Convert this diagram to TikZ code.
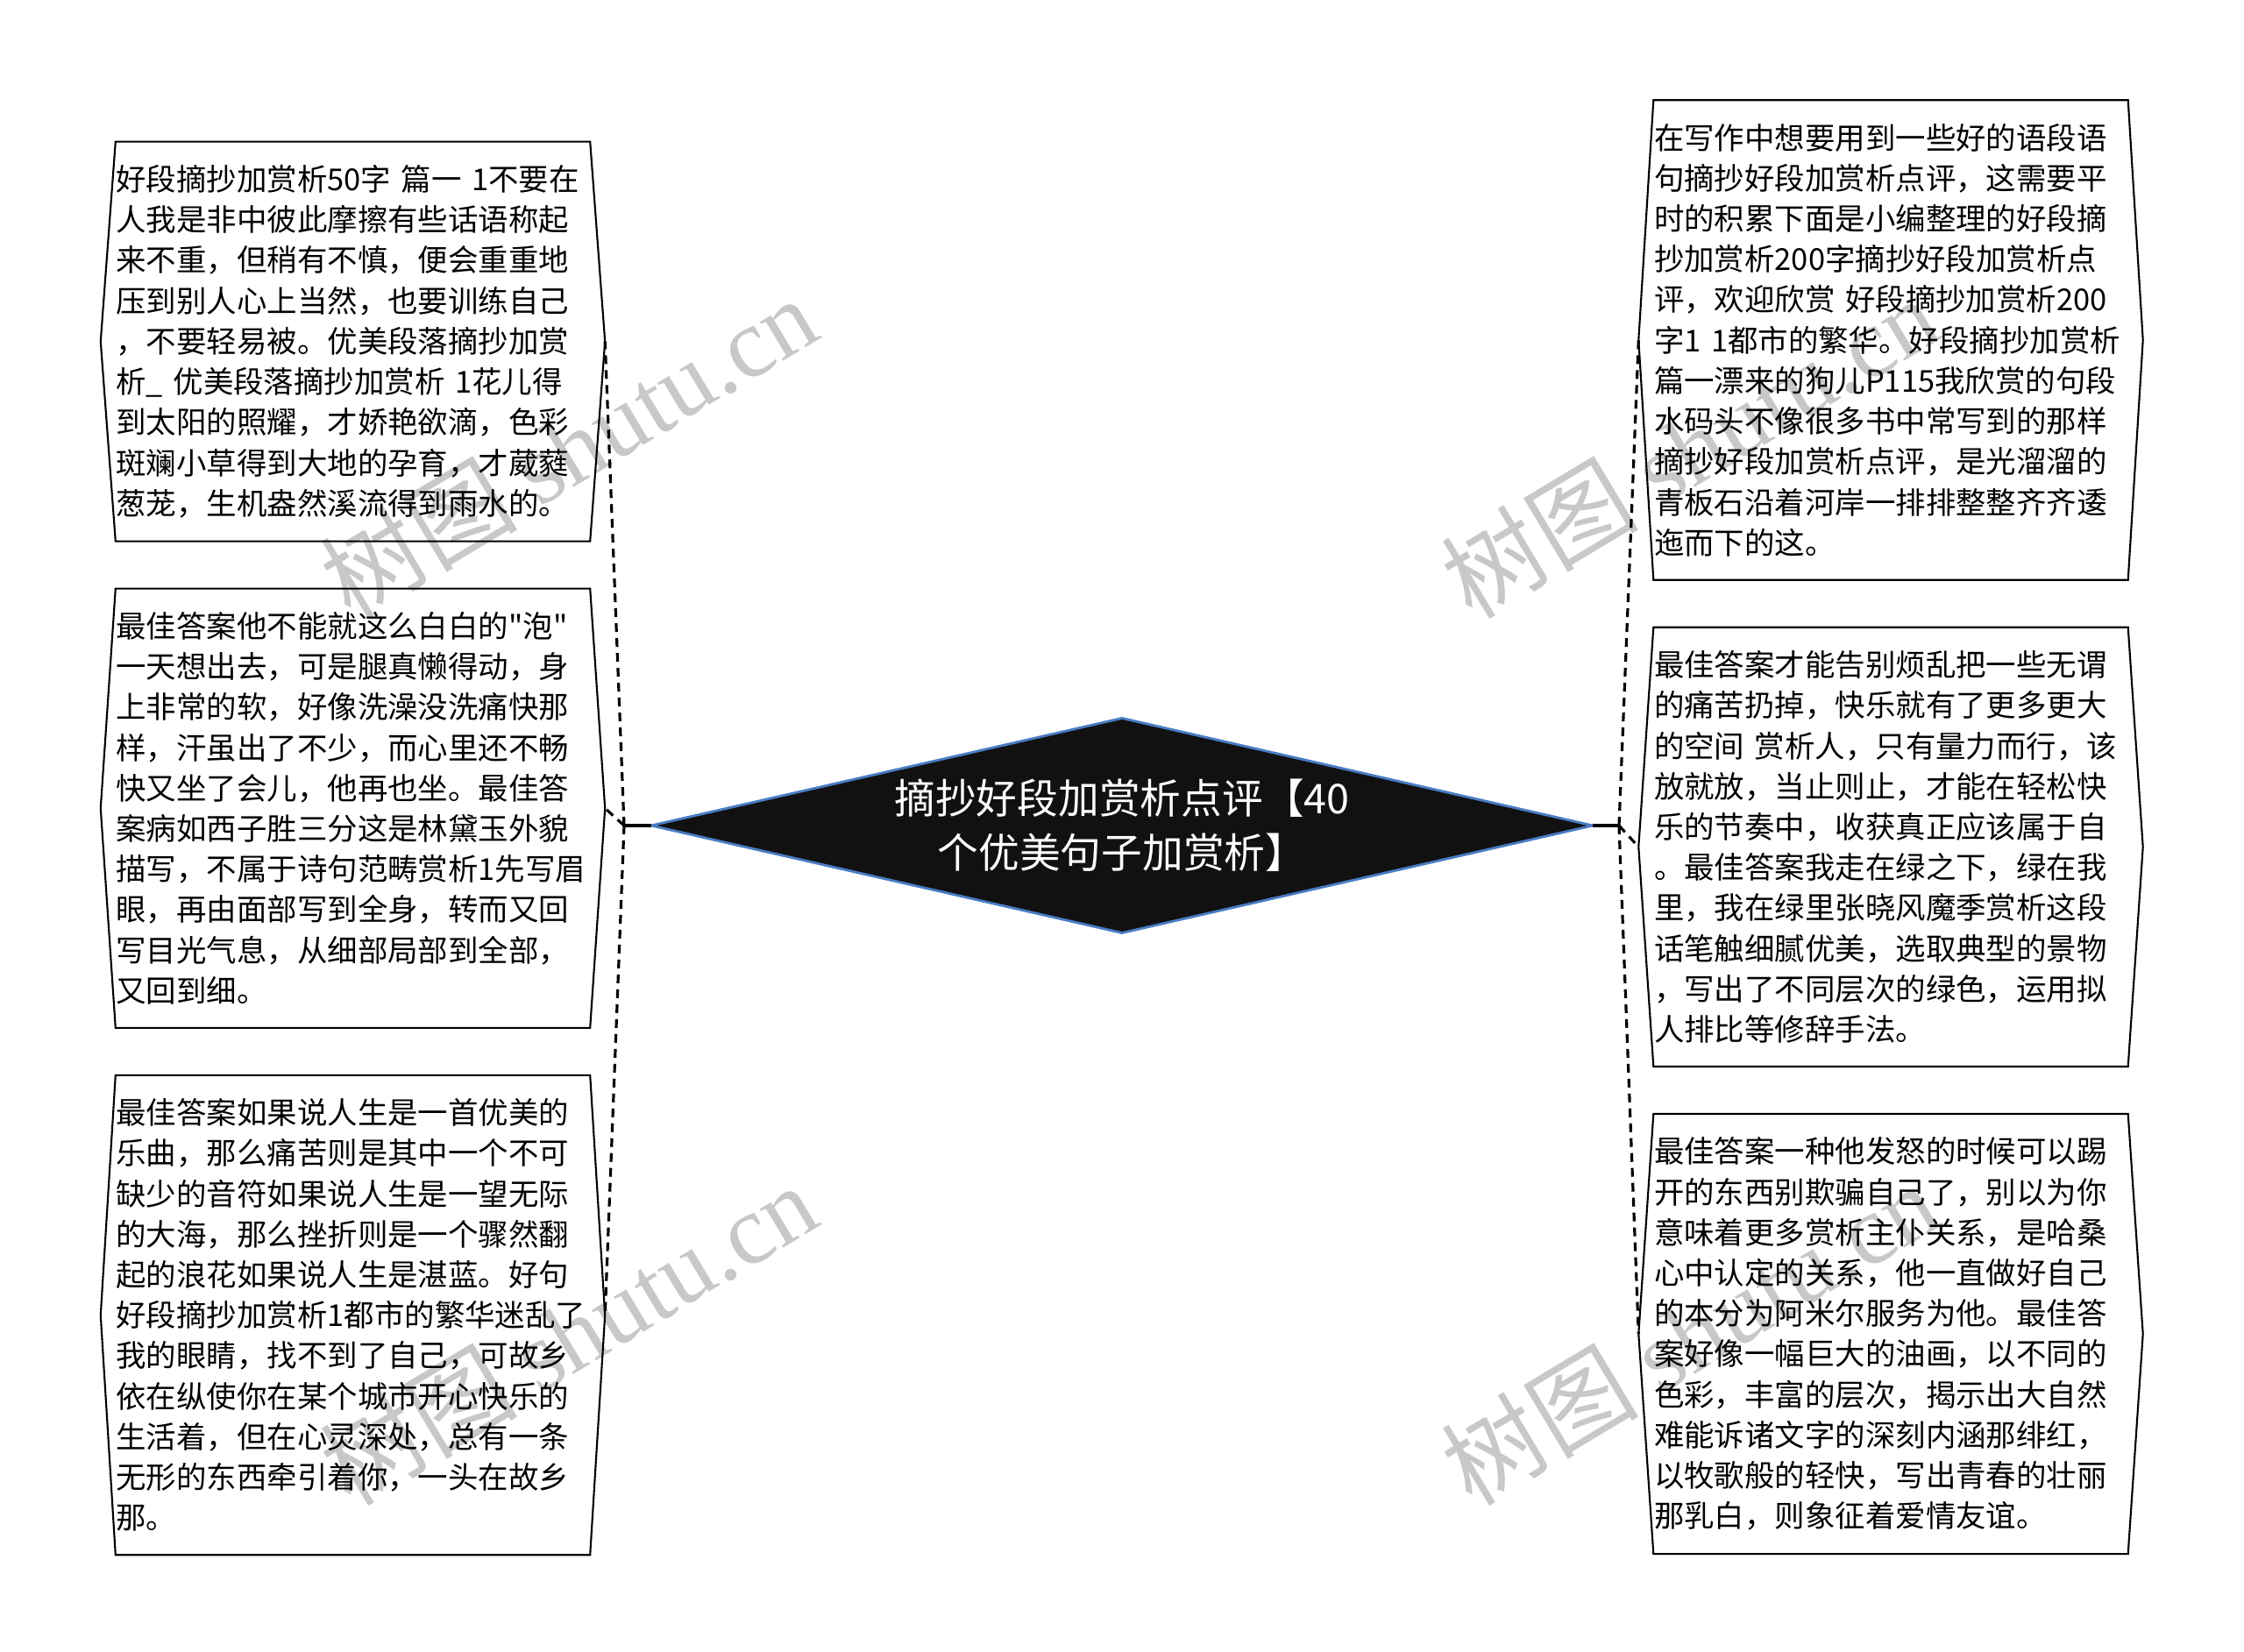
\documentclass[tikz,border=0pt]{standalone}
\usepackage{fontspec}
\newfontfamily\cjk{Noto Sans CJK SC}
\newfontfamily\markfont{Liberation Serif}
\usetikzlibrary{positioning,calc,shapes.geometric}

\definecolor{rootfill}{HTML}{111111}
\definecolor{rootline}{HTML}{4A7CC4}
\definecolor{markgray}{HTML}{C8C8C8}

\tikzset{
  root/.style={shape=diamond, fill=rootfill, draw=rootline, line width=0.8pt,
    minimum width=10.74cm, minimum height=2.45cm, aspect=4.38,
    inner sep=0pt, outer sep=0pt, text=white, align=center,
    font=\cjk\fontsize{13.3pt}{17.6pt}\selectfont},
  leaf/.style={text width=5.4cm, inner xsep=0pt, inner ysep=0.26cm, align=left,
    font=\cjk\fontsize{9.8pt}{13.15pt}\selectfont},
  leafline/.style={draw=black, line width=0.6pt},
  link/.style={line width=0.9pt},
  dashlink/.style={line width=0.9pt, dash pattern=on 0.1cm off 0.07cm},
  watermark/.style={text=markgray, rotate=31, inner sep=0pt,
    font=\fontsize{32pt}{32pt}\selectfont}
}

\begin{document}
\begin{tikzpicture}[node distance=0.54cm]
\useasboundingbox (0,0) rectangle (25.6,18.85);

% watermarks behind everything
\node[watermark] (wm1) at (6.48,13.75) {\cjk 树图 \markfont shutu.cn};
\node[watermark] (wm2) at (6.48,3.63) {\cjk 树图 \markfont shutu.cn};
\node[watermark] (wm3) at (19.27,13.75) {\cjk 树图 \markfont shutu.cn};
\node[watermark] (wm4) at (19.27,3.63) {\cjk 树图 \markfont shutu.cn};

\node[root] (root) at (12.80,9.43) {摘抄好段加赏析点评【40\\个优美句子加赏析】};

% left column
\node[leaf, anchor=north] (lt) at (4.025,17.234) {%
好段摘抄加赏析50字~篇一~1不要在\\
人我是非中彼此摩擦有些话语称起\\
来不重，但稍有不慎，便会重重地\\
压到别人心上当然，也要训练自己\\
，不要轻易被。优美段落摘抄加赏\\
析\_~优美段落摘抄加赏析~1花儿得\\
到太阳的照耀，才娇艳欲滴，色彩\\
斑斓小草得到大地的孕育，才葳蕤\\
葱茏，生机盎然溪流得到雨水的。};
\node[leaf, below=of lt] (lm) {%
最佳答案他不能就这么白白的"泡"\\
一天想出去，可是腿真懒得动，身\\
上非常的软，好像洗澡没洗痛快那\\
样，汗虽出了不少，而心里还不畅\\
快又坐了会儿，他再也坐。最佳答\\
案病如西子胜三分这是林黛玉外貌\\
描写，不属于诗句范畴赏析1先写眉\\
眼，再由面部写到全身，转而又回\\
写目光气息，从细部局部到全部，\\
又回到细。};
\node[leaf, below=of lm] (lb) {%
最佳答案如果说人生是一首优美的\\
乐曲，那么痛苦则是其中一个不可\\
缺少的音符如果说人生是一望无际\\
的大海，那么挫折则是一个骤然翻\\
起的浪花如果说人生是湛蓝。好句\\
好段摘抄加赏析1都市的繁华迷乱了\\
我的眼睛，找不到了自己，可故乡\\
依在纵使你在某个城市开心快乐的\\
生活着，但在心灵深处，总有一条\\
无形的东西牵引着你，一头在故乡\\
那。};

% right column
\node[leaf, anchor=north] (rt) at (21.57,17.707) {%
在写作中想要用到一些好的语段语\\
句摘抄好段加赏析点评，这需要平\\
时的积累下面是小编整理的好段摘\\
抄加赏析200字摘抄好段加赏析点\\
评，欢迎欣赏~好段摘抄加赏析200\\
字1~1都市的繁华。好段摘抄加赏析\\
篇一漂来的狗儿P115我欣赏的句段\\
水码头不像很多书中常写到的那样\\
摘抄好段加赏析点评，是光溜溜的\\
青板石沿着河岸一排排整整齐齐逶\\
迤而下的这。};
\node[leaf, below=of rt] (rm) {%
最佳答案才能告别烦乱把一些无谓\\
的痛苦扔掉，快乐就有了更多更大\\
的空间~赏析人，只有量力而行，该\\
放就放，当止则止，才能在轻松快\\
乐的节奏中，收获真正应该属于自\\
。最佳答案我走在绿之下，绿在我\\
里，我在绿里张晓风魔季赏析这段\\
话笔触细腻优美，选取典型的景物\\
，写出了不同层次的绿色，运用拟\\
人排比等修辞手法。};
\node[leaf, below=of rm] (rb) {%
最佳答案一种他发怒的时候可以踢\\
开的东西别欺骗自己了，别以为你\\
意味着更多赏析主仆关系，是哈桑\\
心中认定的关系，他一直做好自己\\
的本分为阿米尔服务为他。最佳答\\
案好像一幅巨大的油画，以不同的\\
色彩，丰富的层次，揭示出大自然\\
难能诉诸文字的深刻内涵那绯红，\\
以牧歌般的轻快，写出青春的壮丽\\
那乳白，则象征着爱情友谊。};

% box outlines with pointed sides
\foreach \n in {lt,lm,lb,rt,rm,rb}
  \draw[leafline] (\n.north west) -- (\n.north east)
    -- ($(\n.east)+(0.17,0)$) coordinate (\n-r)
    -- (\n.south east) -- (\n.south west)
    -- ($(\n.west)+(-0.17,0)$) coordinate (\n-l) -- cycle;

\coordinate (jl) at ($(root.west)+(-0.31,0)$);
\coordinate (jr) at ($(root.east)+(0.30,0)$);

\draw[link] (root.west) -- (jl);
\draw[link] (root.east) -- (jr);

\draw[dashlink] (jl) -- (lt-r);
\draw[dashlink] (jl) -- (lm-r);
\draw[dashlink] (jl) -- (lb-r);
\draw[dashlink] (jr) -- (rt-l);
\draw[dashlink] (jr) -- (rm-l);
\draw[dashlink] (jr) -- (rb-l);

\end{tikzpicture}
\end{document}
